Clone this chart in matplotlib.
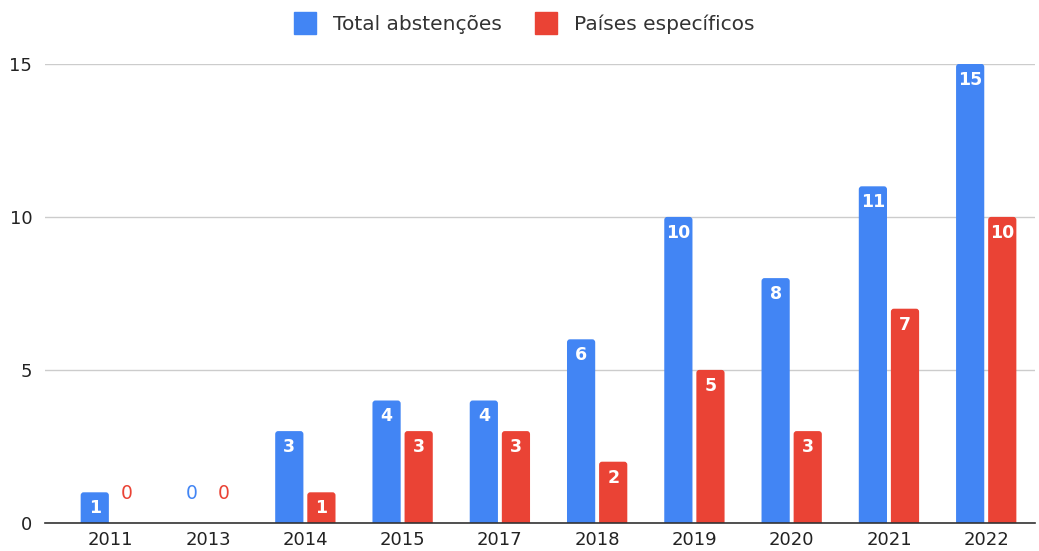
import matplotlib

matplotlib.use("Agg")

import matplotlib.pyplot as plt
import numpy as np
from matplotlib.lines import Line2D
from matplotlib.patches import FancyBboxPatch

years = ["2011", "2013", "2014", "2015", "2017", "2018", "2019", "2020", "2021", "2022"]
total = [1, 0, 3, 4, 4, 6, 10, 8, 11, 15]
specific = [0, 0, 1, 3, 3, 2, 5, 3, 7, 10]
series_names = ["Total abstenções", "Países específicos"]

BLUE = "#4285f4"
RED = "#ea4335"

plt.rcParams["font.family"] = ["DejaVu Sans"]

fig = plt.figure(figsize=(10.39, 5.51), dpi=100)
ax = fig.add_axes([0.043, 0.051, 0.953, 0.833])

x = np.arange(len(years))
width = 0.29
offset = 0.165
ax.set_xlim(-0.68, 9.5)
ax.set_ylim(0, 15)

# rounding radius (~3 px) expressed in data units
rx = 0.03
ry = 0.1

for vals, color, dx in [(total, BLUE, -offset), (specific, RED, offset)]:
    bars = ax.bar(x + dx, vals, width=width, color=color, zorder=3)
    for rect, v in zip(bars, vals):
        cx = rect.get_x() + rect.get_width() / 2
        if v == 0:
            ax.annotate("0", (cx, 0), xytext=(0, 21), textcoords="offset points",
                        ha="center", va="center", color=color, fontsize=13.5, zorder=4)
            continue
        # swap the square bar for one with softly rounded corners
        rect.set_visible(False)
        ax.add_patch(FancyBboxPatch(
            (rect.get_x(), -ry), rect.get_width(), v + ry,
            boxstyle=f"round,pad=0,rounding_size={rx}", mutation_aspect=ry / rx,
            facecolor=color, edgecolor="none", zorder=3))
        ax.annotate(str(v), (cx, v), xytext=(0, -11.5), textcoords="offset points",
                    ha="center", va="center", color="white", fontsize=12.5,
                    fontweight="bold", zorder=4)

ax.set_yticks([0, 5, 10, 15])
ax.set_xticks(x)
ax.set_xticklabels(years)
ax.tick_params(axis="both", length=0, labelsize=13, colors="#222222")
ax.tick_params(axis="x", pad=6)
ax.tick_params(axis="y", pad=9)
ax.grid(axis="y", color="#cccccc", linewidth=1, zorder=0)
for side in ["top", "right", "left"]:
    ax.spines[side].set_visible(False)
ax.spines["bottom"].set_color("#333333")
ax.spines["bottom"].set_linewidth(1.2)
ax.spines["bottom"].set_zorder(5)

handles = [
    Line2D([], [], marker="s", linestyle="none", markersize=16, color=BLUE),
    Line2D([], [], marker="s", linestyle="none", markersize=16, color=RED),
]
fig.legend(handles, series_names, loc="upper center", bbox_to_anchor=(0.5, 1.007),
           ncol=2, frameon=False, fontsize=14.5, labelcolor="#333333",
           handletextpad=0.4, columnspacing=1.2)

fig.savefig("out.png", dpi=100)
